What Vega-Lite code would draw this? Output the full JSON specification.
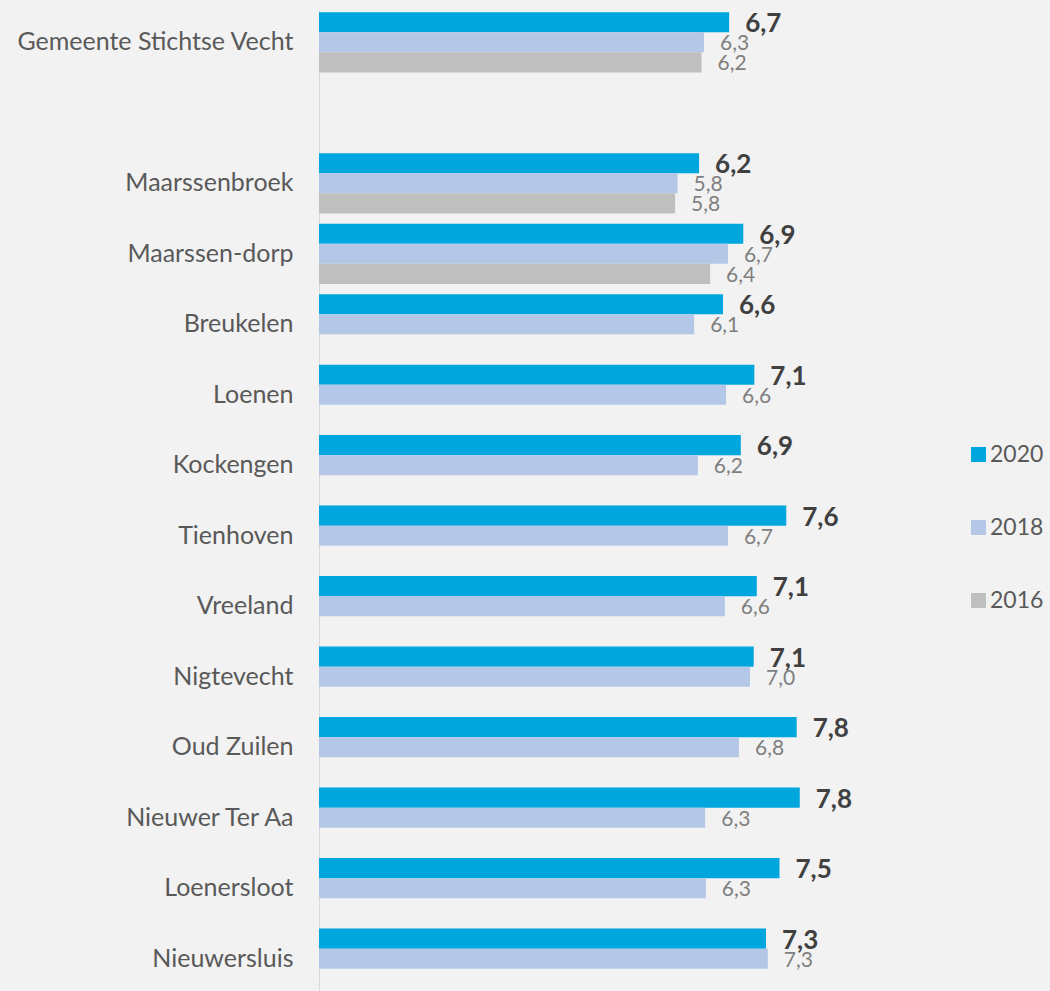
{
  "$schema": "https://vega.github.io/schema/vega-lite/v6.json",
  "width": 614,
  "height": 981,
  "autosize": {"type": "none"},
  "padding": {"left": 319, "top": 10, "right": 117, "bottom": 0},
  "background": "#f2f2f2",
  "config": {"view": {"stroke": null}, "font": "Lato"},
  "data": {
    "values": [
      {"area": "Gemeente Stichtse Vecht\u2005", "year": "2020", "value": 6.68, "label": "6,7"},
      {"area": "Gemeente Stichtse Vecht\u2005", "year": "2018", "value": 6.27, "label": "6,3"},
      {"area": "Gemeente Stichtse Vecht\u2005", "year": "2016", "value": 6.23, "label": "6,2"},
      {"area": "Maarssenbroek", "year": "2020", "value": 6.19, "label": "6,2"},
      {"area": "Maarssenbroek", "year": "2018", "value": 5.84, "label": "5,8"},
      {"area": "Maarssenbroek", "year": "2016", "value": 5.80, "label": "5,8"},
      {"area": "Maarssen-dorp", "year": "2020", "value": 6.91, "label": "6,9"},
      {"area": "Maarssen-dorp", "year": "2018", "value": 6.66, "label": "6,7"},
      {"area": "Maarssen-dorp", "year": "2016", "value": 6.37, "label": "6,4"},
      {"area": "Breukelen", "year": "2020", "value": 6.58, "label": "6,6"},
      {"area": "Breukelen", "year": "2018", "value": 6.11, "label": "6,1"},
      {"area": "Loenen", "year": "2020", "value": 7.09, "label": "7,1"},
      {"area": "Loenen", "year": "2018", "value": 6.63, "label": "6,6"},
      {"area": "Kockengen", "year": "2020", "value": 6.87, "label": "6,9"},
      {"area": "Kockengen", "year": "2018", "value": 6.17, "label": "6,2"},
      {"area": "Tienhoven", "year": "2020", "value": 7.61, "label": "7,6"},
      {"area": "Tienhoven", "year": "2018", "value": 6.66, "label": "6,7"},
      {"area": "Vreeland", "year": "2020", "value": 7.13, "label": "7,1"},
      {"area": "Vreeland", "year": "2018", "value": 6.61, "label": "6,6"},
      {"area": "Nigtevecht", "year": "2020", "value": 7.08, "label": "7,1"},
      {"area": "Nigtevecht", "year": "2018", "value": 7.02, "label": "7,0"},
      {"area": "Oud Zuilen", "year": "2020", "value": 7.78, "label": "7,8"},
      {"area": "Oud Zuilen", "year": "2018", "value": 6.84, "label": "6,8"},
      {"area": "Nieuwer Ter Aa", "year": "2020", "value": 7.83, "label": "7,8"},
      {"area": "Nieuwer Ter Aa", "year": "2018", "value": 6.29, "label": "6,3"},
      {"area": "Loenersloot", "year": "2020", "value": 7.50, "label": "7,5"},
      {"area": "Loenersloot", "year": "2018", "value": 6.30, "label": "6,3"},
      {"area": "Nieuwersluis", "year": "2020", "value": 7.28, "label": "7,3"},
      {"area": "Nieuwersluis", "year": "2018", "value": 7.31, "label": "7,3"}
    ]
  },
  "encoding": {
    "y": {
      "field": "area",
      "type": "nominal",
      "title": null,
      "scale": {
        "domain": ["Gemeente Stichtse Vecht\u2005", " ", "Maarssenbroek", "Maarssen-dorp", "Breukelen", "Loenen", "Kockengen", "Tienhoven", "Vreeland", "Nigtevecht", "Oud Zuilen", "Nieuwer Ter Aa", "Loenersloot", "Nieuwersluis"],
        "paddingInner": 0.145,
        "paddingOuter": 0.031
      },
      "axis": {
        "ticks": false,
        "labelPadding": 26,
        "labelFontSize": 25,
        "labelFont": "Lato",
        "labelColor": "#595959",
        "domainColor": "#d9d9d9",
        "domainWidth": 1,
        "grid": false,
        "labelLimit": 400
      }
    },
    "yOffset": {
      "field": "year",
      "type": "nominal",
      "scale": {"domain": ["2020", "2018", "2016"], "paddingInner": 0, "paddingOuter": 0}
    },
    "x": {
      "field": "value",
      "type": "quantitative",
      "scale": {"domain": [0, 10], "nice": false, "zero": true},
      "axis": null
    }
  },
  "layer": [
    {
      "mark": {"type": "bar"},
      "encoding": {
        "color": {
          "field": "year",
          "type": "nominal",
          "scale": {"domain": ["2020", "2018", "2016"], "range": ["#00a6de", "#b4c7e7", "#bfbfbf"]},
          "legend": {
            "orient": "none",
            "legendX": 648,
            "legendY": 433,
            "title": null,
            "symbolType": "square",
            "symbolSize": 225,
            "symbolStrokeWidth": 0,
            "symbolOpacity": 1,
            "labelFontSize": 23,
            "labelFont": "Lato",
            "labelColor": "#595959",
            "labelOffset": 0,
            "rowPadding": 49,
            "padding": 0
          }
        }
      }
    },
    {
      "transform": [{"filter": "datum.year == '2020'"}],
      "mark": {"type": "text", "align": "left", "baseline": "middle", "dx": 16, "dy": 2, "font": "Lato", "fontWeight": "bold", "fontSize": 26, "color": "#404040"},
      "encoding": {"text": {"field": "label", "type": "nominal"}}
    },
    {
      "transform": [{"filter": "datum.year != '2020'"}],
      "mark": {"type": "text", "align": "left", "baseline": "middle", "dx": 16, "dy": 2, "font": "Lato", "fontSize": 21, "color": "#7f7f7f"},
      "encoding": {"text": {"field": "label", "type": "nominal"}}
    }
  ]
}
